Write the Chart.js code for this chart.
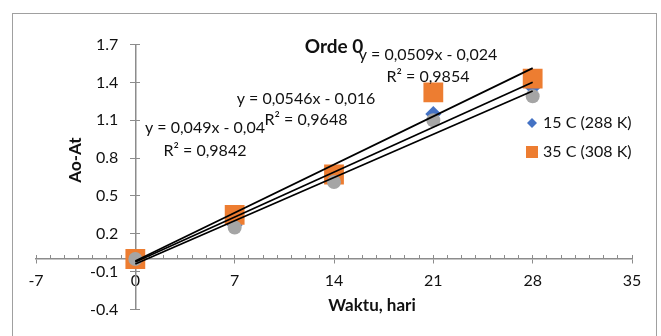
<!DOCTYPE html>
<html>
<head>
<meta charset="utf-8">
<title>Orde 0</title>
<script src="https://cdn.jsdelivr.net/npm/chart.js@4.4.0/dist/chart.umd.min.js"></script>
<style>
  html, body { margin: 0; padding: 0; background: #fff; }
  canvas { display: block; }
</style>
</head>
<body>
<canvas id="grafik" width="661" height="336"></canvas>
<script>
// Data Ao-At terhadap waktu (hari)
const hari = [0, 7, 14, 21, 28];
const suhu15 = [0, 0.27, 0.69, 1.15, 1.36];
const suhu25 = [0, 0.25, 0.61, 1.10, 1.29];
const suhu35 = [0, 0.35, 0.67, 1.32, 1.43];

// Garis tren: urutan [abu-abu, oranye, biru]
const kemiringan = [0.049, 0.0546, 0.0509];
const intersep = [-0.04, -0.016, -0.024];
const persamaan = ['y = 0,049x - 0,04', 'y = 0,0546x - 0,016', 'y = 0,0509x - 0,024'];
const nilaiR2 = ['R² = 0,9842', 'R² = 0,9648', 'R² = 0,9854'];

// Label legenda
const labelSeri = ['15 C (288 K)', '35 C (308 K)'];

// Batas sumbu
const xMin = -7, xMax = 35, xStep = 7;
const yMin = -0.4, yMax = 1.7, yStep = 0.3;

const warnaSumbu = '#8c8c8c';
const huruf = 'Lato, "Open Sans", sans-serif';

function titik(xs, ys) {
    return xs.map((x, i) => ({ x: x, y: ys[i] }));
}

function garisTren(i) {
    const x0 = hari[0], x1 = hari[hari.length - 1];
    return [
        { x: x0, y: kemiringan[i] * x0 + intersep[i] },
        { x: x1, y: kemiringan[i] * x1 + intersep[i] }
    ];
}

const datasetTren = [0, 1, 2].map(i => ({
    type: 'scatter',
    data: garisTren(i),
    showLine: true,
    borderColor: '#000',
    borderWidth: 1.75,
    pointRadius: 0,
    order: 0
}));

// semua skala diletakkan di dalam area plot, tanpa memakan ruang layout
const nolkanLebar = s => { s.width = 0; };
const nolkanTinggi = s => { s.height = 0; };

function skalaX(extra) {
    return Object.assign({
        type: 'linear', axis: 'x', min: xMin, max: xMax,
        position: { y: 0 },
        afterFit: nolkanTinggi
    }, extra);
}
function skalaY(extra) {
    return Object.assign({
        type: 'linear', axis: 'y', min: yMin, max: yMax,
        position: { x: 0 },
        afterFit: nolkanLebar
    }, extra);
}

const teksPlugin = {
    id: 'teks',
    beforeDraw(chart) {
        const ctx = chart.ctx;
        ctx.save();
        ctx.strokeStyle = '#a0a0a0';
        ctx.lineWidth = 1;
        ctx.strokeRect(12.5, 13.5, 644, 340);
        ctx.restore();
    },
    afterDraw(chart) {
        const ctx = chart.ctx;
        ctx.save();
        ctx.fillStyle = '#111';
        ctx.textAlign = 'center';
        ctx.textBaseline = 'middle';

        // judul
        ctx.font = 'bold 19px ' + huruf;
        ctx.fillText('Orde 0', 334, 47);

        // judul sumbu
        ctx.font = 'bold 17px ' + huruf;
        ctx.fillText('Waktu, hari', 372, 306);
        ctx.save();
        ctx.translate(76, 160);
        ctx.rotate(-Math.PI / 2);
        ctx.fillText('Ao-At', 0, 0);
        ctx.restore();

        // persamaan garis tren
        ctx.font = '16px ' + huruf;
        const posisi = [[205, 128, 151], [306, 99, 120], [428, 55, 77]];
        posisi.forEach((p, i) => {
            ctx.fillText(persamaan[i], p[0], p[1]);
            ctx.fillText(nilaiR2[i], p[0], p[2]);
        });

        // legenda
        ctx.textAlign = 'left';
        ctx.fillStyle = '#4472C4';
        ctx.beginPath();
        ctx.moveTo(532, 118); ctx.lineTo(537, 123); ctx.lineTo(532, 128); ctx.lineTo(527, 123);
        ctx.closePath();
        ctx.fill();
        ctx.fillStyle = '#ED7D31';
        ctx.fillRect(526, 146, 12, 12);
        ctx.fillStyle = '#111';
        ctx.fillText(labelSeri[0], 543, 123);
        ctx.fillText(labelSeri[1], 543, 152);
        ctx.restore();
    }
};

Chart.defaults.font.family = huruf;
Chart.defaults.font.size = 16;
Chart.defaults.color = '#111';

new Chart(document.getElementById('grafik'), {
    type: 'scatter',
    data: {
        datasets: datasetTren.concat([
            {
                label: '25 C (298 K)',
                data: titik(hari, suhu25),
                pointStyle: 'circle',
                pointRadius: 7,
                backgroundColor: '#A5A5A5',
                borderWidth: 0,
                order: 1
            },
            {
                label: labelSeri[1],
                data: titik(hari, suhu35),
                pointStyle: 'rect',
                pointRadius: 14,
                backgroundColor: '#ED7D31',
                borderWidth: 0,
                order: 2
            },
            {
                label: labelSeri[0],
                data: titik(hari, suhu15),
                pointStyle: 'rectRot',
                pointRadius: 8,
                backgroundColor: '#4472C4',
                borderWidth: 0,
                order: 3
            }
        ])
    },
    options: {
        responsive: false,
        animation: false,
        events: [],
        layout: { padding: { left: 36, right: 29, top: 44.5, bottom: 26.5 } },
        plugins: {
            legend: { display: false },
            title: { display: false },
            tooltip: { enabled: false }
        },
        scales: {
            x: skalaX({
                ticks: { stepSize: xStep, padding: 8, callback: v => String(v) },
                grid: { drawOnChartArea: false, color: warnaSumbu, tickLength: 4 },
                border: { display: true, color: warnaSumbu, width: 1.5 }
            }),
            xMinor: skalaX({
                ticks: { stepSize: 1, display: false, autoSkip: false },
                grid: { drawOnChartArea: false, color: warnaSumbu, tickLength: -4 },
                border: { display: false }
            }),
            // label sumbu Y sedikit di kiri garis sumbu
            y: skalaY({
                position: { x: -1.2 },
                ticks: { stepSize: yStep, callback: v => Number(v).toFixed(1) },
                grid: { display: false },
                border: { display: false }
            }),
            ySumbu: skalaY({
                ticks: { stepSize: yStep, display: false, autoSkip: false },
                grid: { drawOnChartArea: false, color: warnaSumbu, tickLength: 5 },
                border: { display: true, color: warnaSumbu, width: 1.5 }
            }),
            yKanan: skalaY({
                ticks: { stepSize: yStep, display: false, autoSkip: false },
                grid: { drawOnChartArea: false, color: warnaSumbu, tickLength: -5 },
                border: { display: false }
            })
        }
    },
    plugins: [teksPlugin]
});
</script>
</body>
</html>
